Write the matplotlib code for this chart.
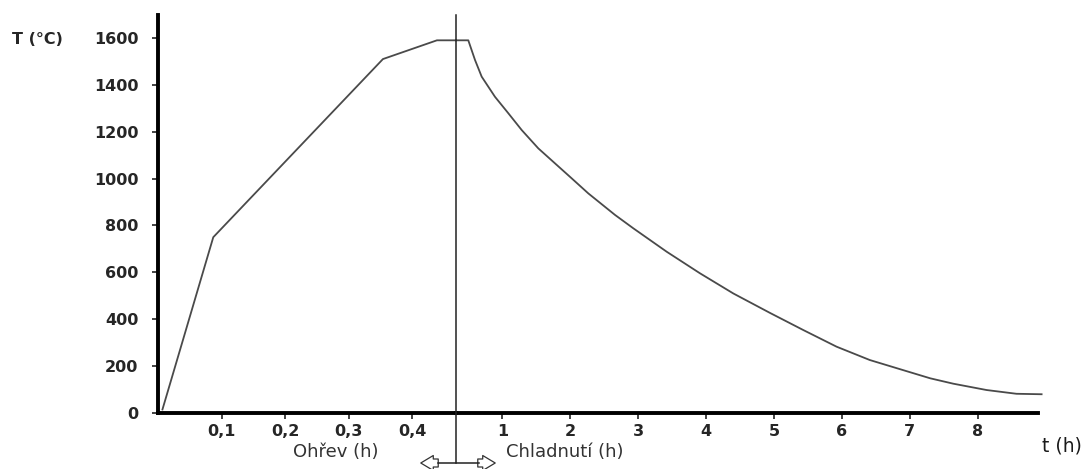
import matplotlib
matplotlib.use('Agg')
import matplotlib.pyplot as plt
from matplotlib.lines import Line2D
from matplotlib.patches import FancyArrowPatch

# heating phase (hours) and temperature (°C)
heat_h = [0.007, 0.087, 0.354, 0.439, 0.469]
heat_T = [15, 750, 1510, 1590, 1590]

# cooling phase (hours) and temperature (°C)
cool_t = [0.316, 0.497, 0.596, 0.694, 0.890, 1.086, 1.284, 1.528, 1.774,
          2.020, 2.264, 2.658, 2.927, 3.419, 3.909, 4.40, 4.94, 5.43,
          5.92, 6.41, 6.90, 7.30, 7.64, 8.13, 8.57, 8.94]
cool_T = [1590, 1590, 1506, 1435, 1349, 1279, 1207, 1129, 1065,
          1001, 937, 845, 788, 688, 596, 510, 427, 354,
          283, 226, 183, 148, 125, 98, 82, 80]

heat_ticks = [0.1, 0.2, 0.3, 0.4]
heat_labels = ['0,1', '0,2', '0,3', '0,4']
cool_ticks = [1, 2, 3, 4, 5, 6, 7, 8]
y_ticks = [0, 200, 400, 600, 800, 1000, 1200, 1400, 1600]

W, H = 1086, 469
fig = plt.figure(figsize=(W / 100, H / 100), dpi=100)

def fx(px):
    return px / W

def fy(py):
    return 1 - py / H

bottom, top = fy(413), fy(15)
ax1 = fig.add_axes([fx(158), bottom, fx(456 - 158), top - bottom])
ax2 = fig.add_axes([fx(456), bottom, fx(1038 - 456), top - bottom])

line_col = '#4a4a4a'
txt_col = '#262626'

ax1.plot(heat_h, heat_T, color=line_col, lw=1.3, clip_on=False)
ax2.plot(cool_t, cool_T, color=line_col, lw=1.3, clip_on=False)

ax1.set_xlim(0, 0.469)
ax2.set_xlim(0.316, 8.887)
for ax in (ax1, ax2):
    ax.set_ylim(0, 1698)
    ax.set_facecolor('none')
    for s in ('top', 'right'):
        ax.spines[s].set_visible(False)
    ax.spines['bottom'].set_linewidth(2.8)
    ax.spines['left'].set_linewidth(2.8)
    ax.tick_params(axis='both', direction='out', length=4, width=1.3,
                   color='#333333', labelcolor=txt_col, labelsize=11.5)

ax2.spines['left'].set_visible(False)
ax2.set_yticks([])

ax1.set_yticks(y_ticks)
ax1.set_yticklabels([str(v) for v in y_ticks], fontweight='bold')
ax1.tick_params(axis='y', pad=10)
ax1.set_xticks(heat_ticks)
ax1.set_xticklabels(heat_labels, fontweight='bold')
ax1.tick_params(axis='x', pad=4)
ax2.set_xticks(cool_ticks)
ax2.set_xticklabels([str(v) for v in cool_ticks], fontweight='bold')
ax2.tick_params(axis='x', pad=4)

# divider between heating and cooling
fig.add_artist(Line2D([fx(456), fx(456)], [fy(15), fy(463)],
                      color='#222222', lw=1.1))
fig.add_artist(Line2D([fx(438), fx(479)], [fy(463), fy(463)],
                      color='#222222', lw=1.1))
for x0, x1 in ((441, 418), (475, 498)):
    fig.add_artist(FancyArrowPatch(
        (fx(x0), fy(463)), (fx(x1), fy(463)), transform=fig.transFigure,
        arrowstyle='simple,head_width=0.6,head_length=0.5,tail_width=0.32',
        mutation_scale=18, facecolor='white', edgecolor='#333333', lw=0.9))

fig.text(fx(12), fy(40), 'T (°C)', fontsize=11.5, fontweight='bold',
         color=txt_col, ha='left', va='center')
fig.text(fx(336), fy(452), 'Ohřev (h)', fontsize=13, color='#333333',
         ha='center', va='center')
fig.text(fx(506), fy(452), 'Chladnutí (h)', fontsize=13, color='#333333',
         ha='left', va='center')
fig.text(fx(1062), fy(446), 't (h)', fontsize=13.5, color='#1a1a1a',
         ha='center', va='center')

fig.savefig('out.png', dpi=100, facecolor='white')
